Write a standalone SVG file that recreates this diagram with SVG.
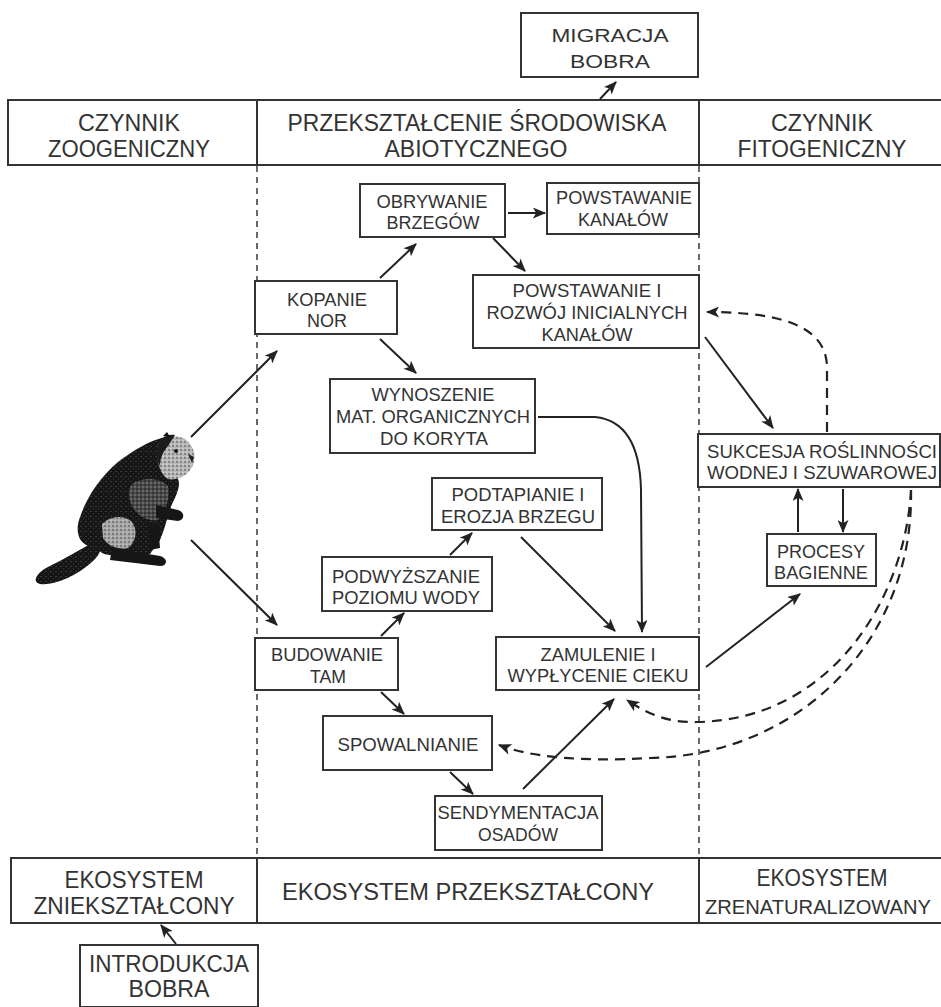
<svg xmlns="http://www.w3.org/2000/svg" width="941" height="1007" viewBox="0 0 941 1007">
  <style>
    .box { fill: #fff; stroke: #333; stroke-width: 2; }
    .band { fill: none; stroke: #333; stroke-width: 2; }
    .div { stroke: #444; stroke-width: 1.6; stroke-dasharray: 6 5; fill: none; }
    .t { font-family: "Liberation Sans", Arial, sans-serif; fill: #333; text-anchor: middle; }
    .n { font-size: 19px; }
    .h { font-size: 23px; }
    .link { fill: none; stroke: #222; stroke-width: 2; }
    .dash { fill: none; stroke: #222; stroke-width: 2.2; stroke-dasharray: 10 7; }
  </style>
  <defs>
    <marker id="arr" viewBox="0 0 12 10" refX="11" refY="5" markerWidth="14" markerHeight="11" markerUnits="userSpaceOnUse" orient="auto">
      <path d="M0,0 L12,5 L0,10 L3,5 Z" fill="#222"/>
    </marker>
    <!-- stippled fur textures for the beaver -->
    <pattern id="furDark" width="5" height="5" patternUnits="userSpaceOnUse">
      <rect width="5" height="5" fill="#161616"/>
      <circle cx="1" cy="1.5" r="0.6" fill="#666"/>
      <circle cx="3.5" cy="3.8" r="0.5" fill="#4a4a4a"/>
    </pattern>
    <pattern id="furMid" width="4" height="4" patternUnits="userSpaceOnUse">
      <rect width="4" height="4" fill="#4a4a4a"/>
      <circle cx="1" cy="1" r="0.8" fill="#1a1a1a"/>
      <circle cx="3" cy="3" r="0.7" fill="#9a9a9a"/>
    </pattern>
    <pattern id="furLight" width="4" height="4" patternUnits="userSpaceOnUse">
      <rect width="4" height="4" fill="#b8b8b8"/>
      <circle cx="1" cy="2" r="0.8" fill="#444"/>
      <circle cx="3" cy="0.5" r="0.5" fill="#eee"/>
    </pattern>
    <filter id="soft" x="-10%" y="-10%" width="120%" height="120%">
      <feGaussianBlur stdDeviation="0.7"/>
    </filter>
  </defs>

  <rect width="941" height="1007" fill="#fff"/>

  <!-- header bands -->
  <g id="header-top">
    <rect class="band" x="8" y="100" width="940" height="65"/>
    <line x1="257" y1="100" x2="257" y2="165" stroke="#333" stroke-width="2"/>
    <line x1="699" y1="100" x2="699" y2="165" stroke="#333" stroke-width="2"/>
    <text class="t h" x="129" y="131" textLength="102" lengthAdjust="spacingAndGlyphs">CZYNNIK</text>
    <text class="t h" x="129" y="157" textLength="162" lengthAdjust="spacingAndGlyphs">ZOOGENICZNY</text>
    <text class="t h" x="477" y="131" textLength="379" lengthAdjust="spacingAndGlyphs">PRZEKSZTAŁCENIE ŚRODOWISKA</text>
    <text class="t h" x="476" y="157" textLength="183" lengthAdjust="spacingAndGlyphs">ABIOTYCZNEGO</text>
    <text class="t h" x="822" y="131" textLength="102" lengthAdjust="spacingAndGlyphs">CZYNNIK</text>
    <text class="t h" x="822" y="157" textLength="169" lengthAdjust="spacingAndGlyphs">FITOGENICZNY</text>
  </g>

  <g id="header-bottom">
    <rect class="band" x="11" y="858" width="937" height="65"/>
    <line x1="257" y1="858" x2="257" y2="923" stroke="#333" stroke-width="2"/>
    <line x1="699" y1="858" x2="699" y2="923" stroke="#333" stroke-width="2"/>
    <text class="t h" x="134" y="888" textLength="139" lengthAdjust="spacingAndGlyphs">EKOSYSTEM</text>
    <text class="t h" x="134" y="914" textLength="201" lengthAdjust="spacingAndGlyphs">ZNIEKSZTAŁCONY</text>
    <text class="t h" x="468" y="900" textLength="372" lengthAdjust="spacingAndGlyphs">EKOSYSTEM PRZEKSZTAŁCONY</text>
    <text class="t h" x="822" y="886" textLength="131" lengthAdjust="spacingAndGlyphs">EKOSYSTEM</text>
    <text class="t" x="818" y="914" font-size="21" textLength="226" lengthAdjust="spacingAndGlyphs">ZRENATURALIZOWANY</text>
  </g>

  <!-- column separators -->
  <g id="columns">
    <line class="div" x1="257" y1="166" x2="257" y2="857"/>
    <line class="div" x1="699" y1="166" x2="699" y2="857"/>
  </g>

  <!-- beaver sitting upright, facing right -->
  <g id="beaver" filter="url(#soft)">
    <!-- tail -->
    <path d="M96,540 C84,548 62,560 46,568 C36,574 32,582 40,584 C54,586 76,576 92,562 C100,555 104,547 96,540 Z" fill="url(#furDark)"/>
    <!-- body -->
    <path d="M166,437 C150,440 134,450 118,462 C100,477 86,498 79,520 C75,534 80,545 92,547 L104,554 C118,557 136,557 150,554 L160,540 C166,526 168,514 172,504 C178,492 182,482 176,476 Z" fill="url(#furDark)"/>
    <!-- chest -->
    <path d="M132,484 C144,476 160,478 168,486 C170,498 166,512 158,520 C148,522 138,516 132,506 C128,498 128,490 132,484 Z" fill="url(#furMid)"/>
    <!-- haunch -->
    <path d="M102,524 C110,516 124,514 132,522 C138,530 136,542 128,548 C118,550 108,546 103,538 Z" fill="url(#furLight)" opacity="0.9"/>
    <!-- head -->
    <path d="M158,444 C163,436 176,434 185,439 C193,445 197,455 193,465 C189,475 178,481 168,479 C160,475 155,458 158,444 Z" fill="url(#furLight)"/>
    <path d="M160,440 C164,436 170,434 175,435 L168,446 C163,452 160,458 160,466 C156,460 155,448 160,440 Z" fill="#1e1e1e"/>
    <circle cx="176" cy="451" r="2" fill="#111"/>
    <path d="M188,454 L194,457 L192,463 Z" fill="#222"/>
    <path d="M163,436 L167,432 L170,437 Z" fill="#111"/>
    <!-- front paw -->
    <path d="M156,505 L178,510 C185,512 185,520 178,521 L156,518 Z" fill="#151515"/>
    <!-- lower leg -->
    <path d="M148,524 L158,524 L160,548 L150,550 Z" fill="#151515"/>
    <!-- hind foot -->
    <path d="M112,548 L160,556 C168,558 168,566 160,566 L110,560 Z" fill="#151515"/>
  </g>

  <!-- nodes -->
  <g id="migracja">
    <rect class="box" x="521" y="13" width="177" height="64"/>
    <text class="t n" x="610" y="42" textLength="117" lengthAdjust="spacingAndGlyphs">MIGRACJA</text>
    <text class="t n" x="610" y="68" textLength="80" lengthAdjust="spacingAndGlyphs">BOBRA</text>
  </g>

  <g id="introdukcja">
    <rect class="box" x="80" y="945" width="178" height="62"/>
    <text class="t h" x="169" y="972" textLength="160" lengthAdjust="spacingAndGlyphs">INTRODUKCJA</text>
    <text class="t h" x="169" y="997" textLength="81" lengthAdjust="spacingAndGlyphs">BOBRA</text>
  </g>

  <g id="obrywanie">
    <rect class="box" x="360" y="184" width="145" height="53"/>
    <text class="t n" x="432" y="208" textLength="111" lengthAdjust="spacingAndGlyphs">OBRYWANIE</text>
    <text class="t n" x="433" y="229" textLength="93" lengthAdjust="spacingAndGlyphs">BRZEGÓW</text>
  </g>

  <g id="powstawanie-kanalow">
    <rect class="box" x="547" y="183" width="152" height="51"/>
    <text class="t n" x="624" y="204" textLength="136" lengthAdjust="spacingAndGlyphs">POWSTAWANIE</text>
    <text class="t n" x="623" y="226" textLength="90" lengthAdjust="spacingAndGlyphs">KANAŁÓW</text>
  </g>

  <g id="kopanie">
    <rect class="box" x="255" y="281" width="142" height="53"/>
    <text class="t n" x="327" y="306" textLength="80" lengthAdjust="spacingAndGlyphs">KOPANIE</text>
    <text class="t n" x="327" y="327" textLength="40" lengthAdjust="spacingAndGlyphs">NOR</text>
  </g>

  <g id="inicjalne-kanaly">
    <rect class="box" x="473" y="275" width="226" height="73"/>
    <text class="t n" x="587" y="297" textLength="149" lengthAdjust="spacingAndGlyphs">POWSTAWANIE I</text>
    <text class="t n" x="587" y="319" textLength="201" lengthAdjust="spacingAndGlyphs">ROZWÓJ INICIALNYCH</text>
    <text class="t n" x="587" y="341" textLength="91" lengthAdjust="spacingAndGlyphs">KANAŁÓW</text>
  </g>

  <g id="wynoszenie">
    <rect class="box" x="330" y="379" width="205" height="74"/>
    <text class="t n" x="433" y="401" textLength="123" lengthAdjust="spacingAndGlyphs">WYNOSZENIE</text>
    <text class="t n" x="433" y="423" textLength="194" lengthAdjust="spacingAndGlyphs">MAT. ORGANICZNYCH</text>
    <text class="t n" x="434" y="445" textLength="108" lengthAdjust="spacingAndGlyphs">DO KORYTA</text>
  </g>

  <g id="sukcesja">
    <rect class="box" x="698" y="434" width="242" height="53"/>
    <text class="t n" x="822" y="458" textLength="230" lengthAdjust="spacingAndGlyphs">SUKCESJA ROŚLINNOŚCI</text>
    <text class="t n" x="822" y="479" textLength="230" lengthAdjust="spacingAndGlyphs">WODNEJ I SZUWAROWEJ</text>
  </g>

  <g id="podtapianie">
    <rect class="box" x="432" y="478" width="170" height="52"/>
    <text class="t n" x="518" y="501" textLength="133" lengthAdjust="spacingAndGlyphs">PODTAPIANIE I</text>
    <text class="t n" x="518" y="523" textLength="154" lengthAdjust="spacingAndGlyphs">EROZJA BRZEGU</text>
  </g>

  <g id="procesy">
    <rect class="box" x="767" y="534" width="109" height="52"/>
    <text class="t n" x="821" y="558" textLength="88" lengthAdjust="spacingAndGlyphs">PROCESY</text>
    <text class="t n" x="821" y="579" textLength="94" lengthAdjust="spacingAndGlyphs">BAGIENNE</text>
  </g>

  <g id="podwyzszanie">
    <rect class="box" x="322" y="557" width="170" height="54"/>
    <text class="t n" x="406" y="583" textLength="148" lengthAdjust="spacingAndGlyphs">PODWYŻSZANIE</text>
    <text class="t n" x="406" y="604" textLength="148" lengthAdjust="spacingAndGlyphs">POZIOMU WODY</text>
  </g>

  <g id="budowanie">
    <rect class="box" x="255" y="638" width="143" height="52"/>
    <text class="t n" x="327" y="661" textLength="112" lengthAdjust="spacingAndGlyphs">BUDOWANIE</text>
    <text class="t n" x="328" y="683" textLength="36" lengthAdjust="spacingAndGlyphs">TAM</text>
  </g>

  <g id="zamulenie">
    <rect class="box" x="496" y="637" width="203" height="53"/>
    <text class="t n" x="598" y="661" textLength="115" lengthAdjust="spacingAndGlyphs">ZAMULENIE I</text>
    <text class="t n" x="598" y="682" textLength="181" lengthAdjust="spacingAndGlyphs">WYPŁYCENIE CIEKU</text>
  </g>

  <g id="spowalnianie">
    <rect class="box" x="323" y="716" width="169" height="54"/>
    <text class="t n" x="408" y="751" textLength="141" lengthAdjust="spacingAndGlyphs">SPOWALNIANIE</text>
  </g>

  <g id="sedymentacja">
    <rect class="box" x="435" y="796" width="167" height="54"/>
    <text class="t n" x="518" y="819" textLength="161" lengthAdjust="spacingAndGlyphs">SENDYMENTACJA</text>
    <text class="t n" x="518" y="841" textLength="80" lengthAdjust="spacingAndGlyphs">OSADÓW</text>
  </g>

  <!-- connectors -->
  <g id="connectors">
    <line class="link" x1="600" y1="99" x2="616" y2="82" marker-end="url(#arr)"/>
    <line class="link" x1="176" y1="944" x2="161" y2="925" marker-end="url(#arr)"/>
    <line class="link" x1="191" y1="437" x2="277" y2="351" marker-end="url(#arr)"/>
    <line class="link" x1="191" y1="540" x2="277" y2="625" marker-end="url(#arr)"/>
    <line class="link" x1="380" y1="278" x2="416" y2="244" marker-end="url(#arr)"/>
    <line class="link" x1="380" y1="339" x2="416" y2="373" marker-end="url(#arr)"/>
    <line class="link" x1="508" y1="213" x2="545" y2="213" marker-end="url(#arr)"/>
    <line class="link" x1="493" y1="238" x2="525" y2="271" marker-end="url(#arr)"/>
    <path class="link" d="M538,417 L595,417 C625,420 640,445 641,490 L642,632" marker-end="url(#arr)"/>
    <line class="link" x1="705" y1="337" x2="773" y2="428" marker-end="url(#arr)"/>
    <line class="link" x1="798" y1="532" x2="798" y2="489" marker-end="url(#arr)"/>
    <line class="link" x1="843" y1="489" x2="843" y2="532" marker-end="url(#arr)"/>
    <line class="link" x1="706" y1="667" x2="800" y2="594" marker-end="url(#arr)"/>
    <line class="link" x1="521" y1="537" x2="615" y2="631" marker-end="url(#arr)"/>
    <line class="link" x1="450" y1="555" x2="472" y2="533" marker-end="url(#arr)"/>
    <line class="link" x1="381" y1="636" x2="404" y2="613" marker-end="url(#arr)"/>
    <line class="link" x1="381" y1="692" x2="404" y2="714" marker-end="url(#arr)"/>
    <line class="link" x1="450" y1="772" x2="473" y2="794" marker-end="url(#arr)"/>
    <line class="link" x1="523" y1="789" x2="614" y2="699" marker-end="url(#arr)"/>
    <path class="dash" d="M827,432 L827,368 C827,330 790,312 707,312" marker-end="url(#arr)"/>
    <path class="dash" d="M911,490 C905,600 830,720 697,722 C665,723 645,712 627,700" marker-end="url(#arr)"/>
    <path class="dash" d="M911,490 C914,640 800,755 650,758 C580,762 530,757 499,745" marker-end="url(#arr)"/>
  </g>
</svg>
